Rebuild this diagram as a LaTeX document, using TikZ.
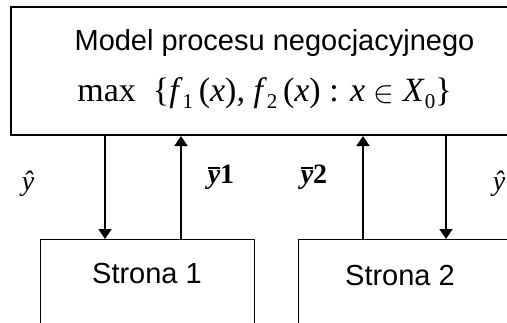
\documentclass[tikz,border=0pt]{standalone}
\usepackage{fontspec}
\usepackage{graphicx}
\setmainfont{Liberation Serif}
\setsansfont{Liberation Sans}
\newfontfamily\tms{Liberation Serif}
\usetikzlibrary{arrows.meta,positioning}
\newcommand{\sbs}[1]{\raisebox{-0.22em}{\fontsize{21}{21}\selectfont #1}}
\newcommand{\ybar}{\leavevmode\vbox{\hrule height 1.6pt\kern 1.2pt\hbox{\bfseries\itshape y}}}
\tikzset{
  blk/.style={draw=black,line width=#1,fill=none,inner sep=0pt},
  blk/.default=1.2pt,
  flow/.style={-{Triangle[length=10pt,width=13pt]},line width=1.5pt},
  lab/.style={font=\sffamily\fontsize{29}{31}\selectfont,anchor=base,inner sep=0pt},
  sym/.style={font=\tms\fontsize{28}{30}\selectfont,anchor=base,inner sep=0pt},
}
\begin{document}
\begin{tikzpicture}[x=1pt,y=-1pt]
  \useasboundingbox (0,0) rectangle (507,322);
  \clip (0,0) rectangle (507,322);
  % model of the negotiation process
  \node[blk=2pt,minimum width=528pt,minimum height=128pt,anchor=north west] (model) at (10,6) {};
  \node[lab] (title) at (274.5,50) {Model procesu negocjacyjnego};
  \node[sym,font=\tms\fontsize{34}{36}\selectfont] (goal) at (264.5,101)
    {max\ \ \{\textit{f}\sbs{1}\,(\textit{x}), \textit{f}\sbs{2}\,(\textit{x}) : \textit{x} \raisebox{-0.05em}{\scalebox{1.25}{$\in$}} \textit{X}\sbs{0}\}};
  % the two parties
  \node[blk,minimum width=214pt,minimum height=130pt,anchor=north west] (s1) at (40,239) {};
  \node[blk,minimum width=214pt,minimum height=130pt,anchor=north west] (s2) at (298,239) {};
  \node[lab] (s1txt) at (147,283) {Strona 1};
  \node[lab] (s2txt) at (400,285) {Strona 2};
  % flows
  \draw[flow] (105,0 |- model.south) -- (105,0 |- s1.north);
  \draw[flow] (181,0 |- s1.north) -- (181,0 |- model.south);
  \draw[flow] (363,0 |- s2.north) -- (363,0 |- model.south);
  \draw[flow] (446,0 |- model.south) -- (446,0 |- s2.north);
  \node[sym] (yh1) at (28,190) {\textit{ŷ}};
  \node[sym] (yb1) at (221,183) {\ybar\textbf{1}};
  \node[sym] (yb2) at (314,183) {\ybar\textbf{2}};
  \node[sym] (yh2) at (499,190) {\textit{ŷ}};
\end{tikzpicture}
\end{document}
